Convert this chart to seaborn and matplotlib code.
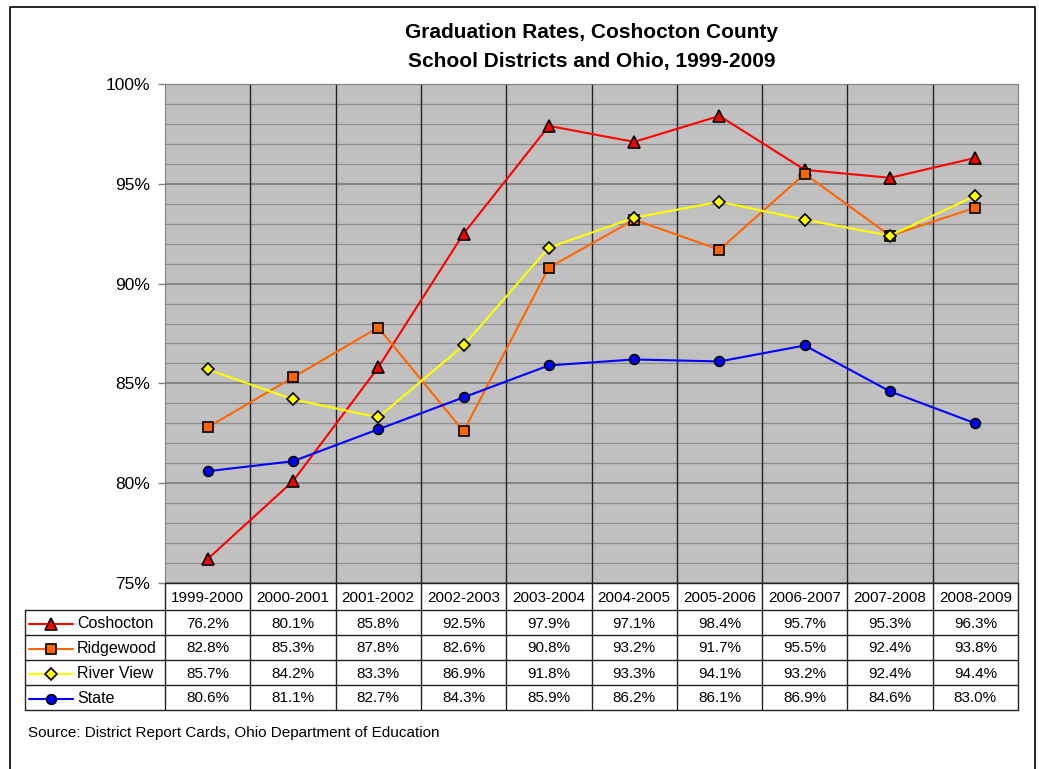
import numpy as np
import pandas as pd
import seaborn as sns
import matplotlib.pyplot as plt
from matplotlib.lines import Line2D

years = ["1999-2000", "2000-2001", "2001-2002", "2002-2003", "2003-2004",
         "2004-2005", "2005-2006", "2006-2007", "2007-2008", "2008-2009"]
coshocton = [76.2, 80.1, 85.8, 92.5, 97.9, 97.1, 98.4, 95.7, 95.3, 96.3]
ridgewood = [82.8, 85.3, 87.8, 82.6, 90.8, 93.2, 91.7, 95.5, 92.4, 93.8]
river_view = [85.7, 84.2, 83.3, 86.9, 91.8, 93.3, 94.1, 93.2, 92.4, 94.4]
state = [80.6, 81.1, 82.7, 84.3, 85.9, 86.2, 86.1, 86.9, 84.6, 83.0]

series_names = ["Coshocton", "Ridgewood", "River View", "State"]
series_vals = [coshocton, ridgewood, river_view, state]
colors = {"Coshocton": "#FF0000", "Ridgewood": "#FF6600",
          "River View": "#FFFF00", "State": "#0000FF"}
markers = {"Coshocton": "^", "Ridgewood": "s", "River View": "D", "State": "o"}
msizes = {"Coshocton": 8, "Ridgewood": 7, "River View": 6, "State": 7}

df = pd.DataFrame({
    "year": np.tile(years, len(series_names)),
    "idx": np.tile(np.arange(len(years)), len(series_names)),
    "district": np.repeat(series_names, len(years)),
    "rate": np.concatenate(series_vals),
})

sns.set_style("white")
plt.rcParams["font.family"] = ["Liberation Sans", "DejaVu Sans"]
plt.rcParams["text.color"] = "black"
plt.rcParams["ytick.color"] = "black"

W, H = 1039, 769
fig = plt.figure(figsize=(W / 100, H / 100), dpi=100)

# plot area in pixels
px_l, px_r, px_t, px_b = 165, 1018, 84, 583
ax = fig.add_axes([px_l / W, 1 - px_b / H, (px_r - px_l) / W, (px_b - px_t) / H])
ax.set_facecolor("#C0C0C0")

for name in series_names:
    sub = df[df["district"] == name]
    sns.lineplot(data=sub, x="idx", y="rate", ax=ax, color=colors[name],
                 marker=markers[name], markersize=msizes[name],
                 markerfacecolor=colors[name], markeredgecolor="black",
                 markeredgewidth=1.2, linewidth=1.5, zorder=5)

ax.set_xlim(-0.5, len(years) - 0.5)
ax.set_ylim(75, 100)
ax.set_yticks(np.arange(75, 101, 5))
ax.set_yticklabels([f"{v}%" for v in range(75, 101, 5)], fontsize=12.5)
ax.set_yticks(np.arange(75, 101, 1), minor=True)
ax.set_xticks([])
ax.set_xlabel("")
ax.set_ylabel("")
ax.grid(which="major", axis="y", color="#808080", linewidth=1.3, zorder=1)
ax.grid(which="minor", axis="y", color="#8C8C8C", linewidth=0.9, zorder=1)
for b in np.arange(0.5, len(years) - 1, 1):
    ax.axvline(b, color="#222222", linewidth=1, zorder=2)
ax.set_axisbelow(True)
ax.tick_params(axis="y", which="major", left=True, length=5, width=1,
               color="#808080", labelcolor="black", pad=6)
ax.tick_params(axis="y", which="minor", left=False)
for s in ["top", "right", "bottom", "left"]:
    ax.spines[s].set_color("#808080")

fig.text((px_l + px_r) / 2 / W, 1 - 33 / H,
         "Graduation Rates, Coshocton County", ha="center", va="center",
         fontsize=15, fontweight="bold", color="black")
fig.text((px_l + px_r) / 2 / W, 1 - 62 / H,
         "School Districts and Ohio, 1999-2009", ha="center", va="center",
         fontsize=15, fontweight="bold", color="black")

# data table under the plot, drawn on a pixel-space overlay
ov = fig.add_axes([0, 0, 1, 1], facecolor="none")
ov.set_xlim(0, W)
ov.set_ylim(H, 0)
ov.axis("off")

lc = "#222222"
colw = (px_r - px_l) / len(years)
hdr_b = 610
row_h = 25
tab_l = 25
tab_b = hdr_b + row_h * len(series_names)

# header row with years
ov.plot([px_l, px_r], [px_b, px_b], color=lc, lw=1)
for i, y in enumerate(years):
    ov.text(px_l + (i + 0.5) * colw, (px_b + hdr_b) / 2 + 1, y,
            ha="center", va="center", fontsize=11, color="black")
for i in range(len(years) + 1):
    ov.plot([px_l + i * colw] * 2, [px_b, tab_b], color=lc, lw=1)

# data rows
for r in range(len(series_names) + 1):
    ov.plot([tab_l, px_r], [hdr_b + r * row_h] * 2, color=lc, lw=1)
ov.plot([tab_l, tab_l], [hdr_b, tab_b], color=lc, lw=1)

for r, (name, vals) in enumerate(zip(series_names, series_vals)):
    yc = hdr_b + (r + 0.5) * row_h + 1
    ov.add_line(Line2D([29, 73], [yc, yc], color=colors[name], lw=1.5))
    ov.plot([51], [yc], marker=markers[name], markersize=msizes[name],
            markerfacecolor=colors[name], markeredgecolor="black",
            markeredgewidth=1.2)
    ov.text(77, yc, name, ha="left", va="center", fontsize=11.5, color="black")
    for i, v in enumerate(vals):
        ov.text(px_l + (i + 0.5) * colw, yc, f"{v:.1f}%",
                ha="center", va="center", fontsize=11, color="black")

fig.text(28 / W, 1 - 733 / H,
         "Source: District Report Cards, Ohio Department of Education",
         ha="left", va="center", fontsize=11, color="black")

# outer chart border
ov.plot([10, 10, 1035, 1035], [H + 5, 7, 7, H + 5], color="black", lw=1.2)

fig.savefig("out.png", dpi=100)
